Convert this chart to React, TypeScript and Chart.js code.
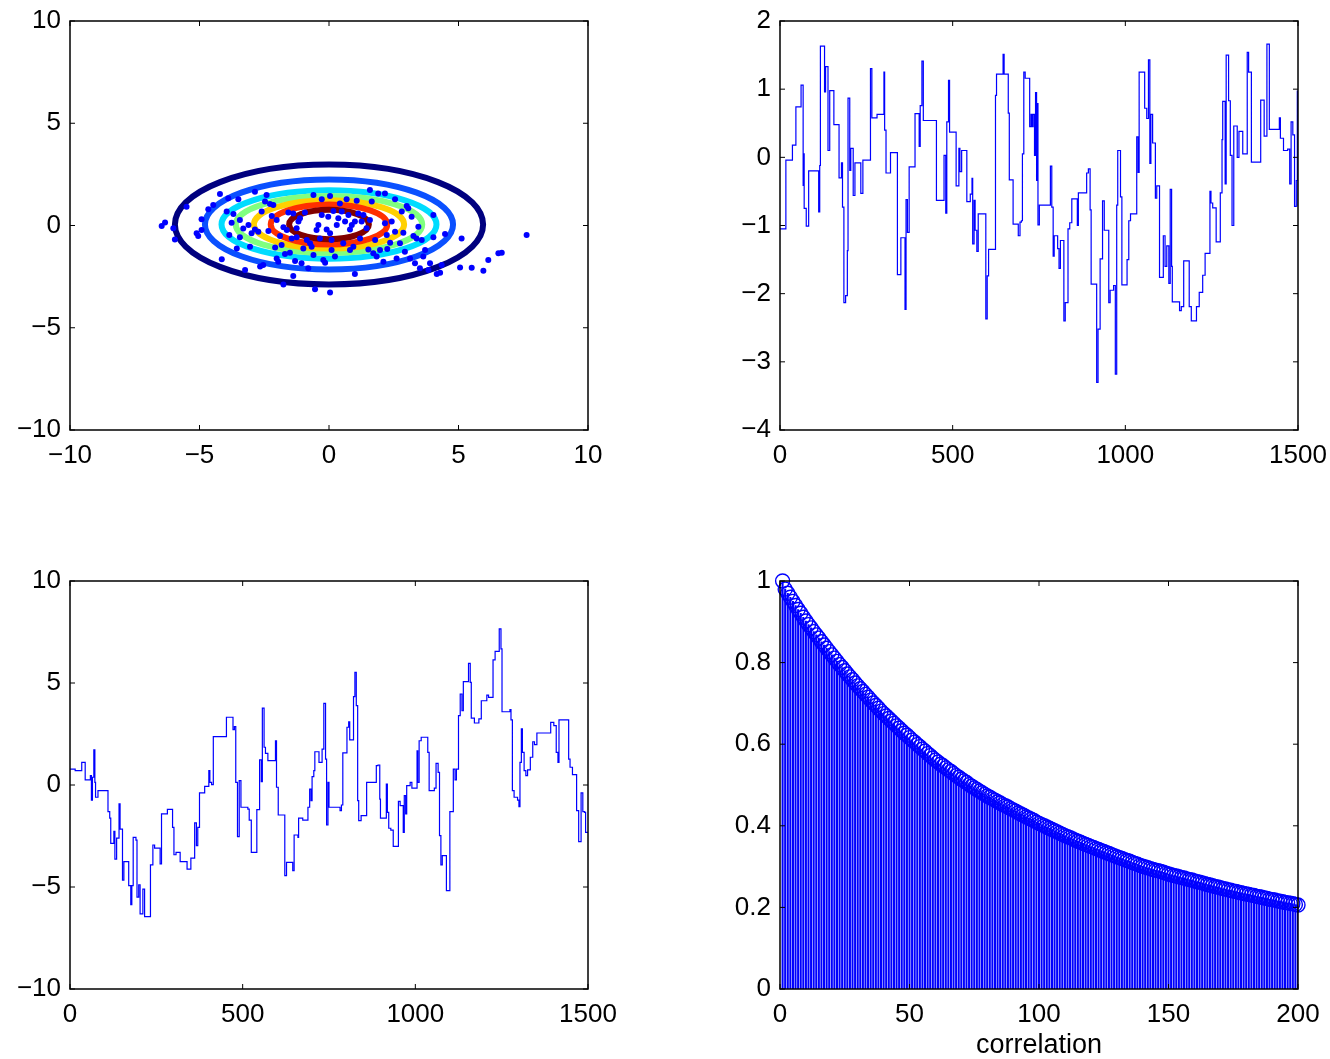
import React, { useEffect, useRef } from 'react';
import { Chart, registerables } from 'chart.js';

Chart.register(...registerables);

const FONT = '"Liberation Sans", Arial, Helvetica, sans-serif';
const TICK_FONT_SIZE = 26;
const TITLE_FONT_SIZE = 27;
const Y_AXIS_W = 70;
const PAD_TOP = 32;
const PAD_RIGHT = 50;
const TICK_LEN = 5;

// ---------- Panel 1 (top-left): contour levels + samples ----------
const contourColors = ['#00007f', '#0a50ff', '#00dcff', '#80ff80', '#ffd000', '#ff3000', '#800000'];
const contourSemiX = [5.95, 4.79, 4.15, 3.6, 2.9, 2.25, 1.54];
const contourSemiY = [2.93, 2.2, 1.67, 1.39, 1.18, 0.98, 0.72];
const contourCenterX = 0;
const contourCenterY = 0.05;

const sampleX = [
  -6.46, -6.33, -6.01, -5.95, -5.5, -5.11, -5.05, -4.92, -4.92, -4.66,
  -4.47, -4.21, -4.14, -3.95, -3.89, -3.85, -3.76, -3.69, -3.56, -3.5,
  -3.44, -3.44, -3.31, -3.24, -3.11, -3.05, -2.99, -2.86, -2.86, -2.73,
  -2.66, -2.6, -2.54, -2.47, -2.41, -2.34, -2.28, -2.21, -2.15, -2.08,
  -2.02, -2.02, -1.96, -1.89, -1.83, -1.76, -1.76, -1.7, -1.63, -1.57,
  -1.51, -1.44, -1.38, -1.38, -1.31, -1.25, -1.25, -1.18, -1.12, -1.06,
  -0.99, -0.93, -0.86, -0.8, -0.73, -0.67, -0.6, -0.6, -0.54, -0.48,
  -0.41, -0.35, -0.28, -0.28, -0.22, -0.15, -0.09, -0.03, 0.04, 0.04,
  0.04, 0.1, 0.17, 0.1, 0.23, 0.3, 0.36, 0.42, 0.49, 0.55,
  0.62, 0.68, 0.75, 0.81, 0.81, 0.88, 0.94, 1.0, 1.0, 1.07,
  1.13, 1.2, 1.26, 1.33, 1.45, 1.52, 1.58, 1.58, 1.65, 1.71,
  1.78, 1.84, 1.9, 1.97, 2.1, 2.16, 2.16, 2.23, 2.25, 2.36,
  2.42, 2.55, 2.55, 2.61, 2.74, 2.81, 2.87, 2.93, 3.0, 3.06,
  3.13, 3.19, 3.26, 3.32, 3.38, 3.45, 3.51, 3.58, 3.64, 3.71,
  3.84, 3.9, 4.03, 4.03, 4.16, 4.29, 4.35, 4.48, 5.06, 5.12,
  5.51, 5.96, 6.15, 6.54, 6.67, 7.63,
];
const sampleY = [
  -0.02, 0.15, -0.14, -0.68, 0.92, -0.38, -0.51, 0.3, -0.22, 0.79,
  1.0, 1.54, -1.65, 0.68, 1.33, -0.46, 0.14, 0.56, -1.12, 1.28,
  0.27, -0.58, -0.15, -2.18, 0.02, -1.04, -0.38, 1.65, -0.19, -0.3,
  -2.01, 0.68, -1.93, 1.17, 1.49, -0.27, 1.05, 0.46, 1.0, -1.07,
  0.27, -1.61, -1.77, -0.51, -0.95, -2.88, -0.09, -1.39, -0.22, 0.63,
  -1.33, -0.63, -2.47, 0.59, -1.74, -0.14, -0.58, 0.19, 0.35, -1.85,
  -1.12, 0.64, -0.71, -2.09, -0.87, -1.04, 1.49, -1.44, -3.12, -0.22,
  0.02, -0.63, 1.28, 0.51, -1.69, -1.82, -0.19, 0.43, 1.44, -0.38,
  -3.28, -0.71, 0.71, -1.2, -1.52, 0.02, 0.35, 1.08, 0.68, -0.87,
  0.19, 1.28, 0.51, -0.19, -1.2, 0.02, -1.04, -2.37, 0.19, 1.21,
  0.59, -0.63, 0.19, 0.51, -0.14, -1.17, 1.74, 0.27, 1.17, -1.36,
  -0.71, -1.52, 1.57, -1.2, -1.77, 1.57, 0.11, -0.46, -1.15, -0.84,
  0.19, 1.28, -0.3, -1.61, -0.87, 0.68, -0.35, -1.28, 0.95, 0.84,
  -1.61, 0.43, -0.51, -1.85, -0.63, -0.06, -2.09, -0.71, -1.52, -1.2,
  -2.18, -1.85, -0.58, 0.51, -2.37, -2.31, -1.93, -0.42, -2.05, -0.63,
  -2.06, -2.21, -1.69, -1.36, -1.33, -0.46,
];

// ---------- Panel 2 (top-right): chain trace, breakpoints ----------
const traceAX = [
  0, 17, 36, 46, 61, 67, 69, 70, 76, 83,
  112, 115, 117, 129, 132, 139, 144, 156, 171, 178,
  181, 185, 190, 195, 197, 202, 205, 212, 217, 234,
  240, 262, 266, 281, 301, 303, 307, 320, 340, 350,
  362, 365, 369, 374, 391, 403, 406, 411, 415, 453,
  475, 480, 483, 488, 491, 510, 518, 521, 526, 541,
  551, 556, 558, 562, 565, 570, 574, 596, 600, 604,
  624, 627, 646, 649, 661, 664, 675, 690, 695, 699,
  702, 706, 710, 723, 727, 730, 733, 737, 740, 743,
  745, 747, 751, 783, 787, 791, 794, 804, 808, 812,
  822, 826, 834, 839, 845, 861, 864, 888, 893, 898,
  901, 917, 921, 927, 934, 939, 952, 956, 966, 971,
  975, 978, 986, 990, 1005, 1010, 1015, 1033, 1037, 1040,
  1056, 1062, 1067, 1071, 1074, 1079, 1087, 1091, 1099, 1110,
  1115, 1120, 1126, 1130, 1134, 1136, 1157, 1162, 1169, 1185,
  1191, 1206, 1214, 1224, 1231, 1245, 1248, 1253, 1263, 1275,
  1280, 1282, 1289, 1292, 1299, 1304, 1309, 1314, 1324, 1329,
  1340, 1353, 1357, 1365, 1392, 1402, 1410, 1417, 1446, 1449,
  1458, 1470, 1476, 1480, 1485, 1490, 1495, 1498, 1500,
];
const traceAY = [
  -1.05, -0.04, 0.18, 0.74, 1.06, -0.41, 0.05, -0.75, -1.01, -0.2,
  -0.8, -0.12, 1.63, 0.96, 1.33, 0.1, 0.98, 0.48, -0.3, -0.08,
  -0.73, -2.13, -2.03, -1.37, 0.87, -0.19, 0.13, -0.56, -0.08, -0.53,
  -0.04, 1.3, 0.58, 0.63, 1.25, 0.4, -0.23, 0.07, -1.72, -1.18,
  -2.23, -0.62, -1.1, -0.14, 0.64, 0.16, 0.76, 1.41, 0.54, -0.63,
  0.03, -0.82, 0.52, 1.13, 0.37, -0.42, 0.13, -0.21, 0.1, -0.65,
  -0.54, -0.31, -1.27, -0.63, -1.07, -1.38, -0.83, -2.37, -1.74, -1.35,
  0.91, 1.22, 1.51, 1.22, 0.65, -0.33, -0.98, -1.15, -0.95, -0.93,
  0.05, 1.25, 1.16, 0.45, 0.63, 0.45, 0.63, 0.03, 0.95, -0.34,
  0.79, -0.99, -0.7, -0.13, -0.73, -1.45, -1.15, -1.34, -1.63, -1.22,
  -2.4, -2.13, -1.05, -0.96, -0.61, -1.0, -0.52, -0.23, -0.17, -0.77,
  -1.86, -3.3, -2.52, -1.49, -0.64, -1.07, -2.13, -1.95, -1.88, -3.18,
  -0.7, 0.1, -0.58, -1.87, -1.5, -0.93, -0.83, 0.3, -0.22, 1.25,
  0.72, 0.57, 1.43, -0.09, 0.63, 0.21, -0.6, -0.42, -1.76, -1.15,
  -1.6, -1.3, -1.85, -0.47, -1.6, -2.12, -2.25, -2.19, -1.52, -2.19,
  -2.4, -2.19, -1.98, -1.73, -1.41, -0.5, -0.67, -0.74, -1.24, -0.52,
  0.26, 0.82, -0.39, 1.5, 0.83, 0.03, -1.0, 0.46, 0.0, 0.38,
  0.05, 1.54, 1.25, -0.07, 0.84, 0.31, 1.66, 0.41, 0.58, 0.28,
  0.1, 0.12, -0.39, 0.52, 0.33, -0.72, -0.34, 0.97, -0.72,
];

// ---------- Panel 3 (bottom-left): chain trace, breakpoints ----------
const traceBX = [
  0, 15, 34, 44, 59, 62, 65, 69, 72, 74,
  81, 110, 115, 118, 127, 130, 135, 142, 145, 152,
  156, 170, 176, 179, 183, 191, 194, 199, 203, 211,
  216, 233, 240, 245, 261, 265, 282, 297, 301, 307,
  319, 339, 350, 361, 366, 370, 375, 390, 402, 405,
  410, 415, 453, 472, 476, 480, 485, 490, 495, 515,
  519, 525, 541, 549, 554, 557, 562, 566, 573, 595,
  598, 603, 622, 627, 645, 649, 660, 662, 674, 689,
  694, 698, 701, 706, 709, 721, 730, 735, 740, 743,
  747, 750, 782, 786, 790, 802, 807, 810, 821, 825,
  829, 833, 836, 843, 859, 887, 892, 897, 899, 916,
  919, 923, 929, 936, 951, 956, 965, 968, 972, 975,
  985, 990, 1005, 1007, 1011, 1017, 1036, 1040, 1055, 1060,
  1066, 1070, 1074, 1078, 1090, 1100, 1110, 1115, 1119, 1125,
  1130, 1135, 1139, 1154, 1159, 1162, 1171, 1184, 1191, 1207,
  1212, 1225, 1231, 1243, 1248, 1251, 1274, 1277, 1281, 1286,
  1296, 1300, 1303, 1307, 1310, 1315, 1320, 1325, 1333, 1340,
  1345, 1352, 1392, 1401, 1408, 1413, 1416, 1444, 1448, 1455,
  1467, 1473, 1480, 1485, 1490, 1493, 1500,
];
const traceBY = [
  0.78, 0.7, 1.11, 0.25, 0.46, -0.74, 0.38, 1.72, 0.13, -0.6,
  -0.28, -1.31, -1.62, -2.86, -2.27, -3.63, -2.6, -0.93, -2.16, -4.66,
  -3.76, -4.93, -5.87, -4.93, -2.57, -2.7, -5.5, -4.89, -6.32, -5.1,
  -6.45, -3.92, -2.94, -3.09, -3.87, -1.42, -1.19, -2.08, -3.42, -3.3,
  -3.76, -4.12, -3.58, -1.86, -2.97, -2.08, -0.39, -0.07, 0.7, 0.13,
  0.02, 2.37, 3.32, 2.71, 2.86, 0.13, -2.53, 0.21, -1.09, -1.18,
  -1.72, -3.3, -1.21, 1.23, 0.16, 3.77, 1.85, 1.55, 1.19, 2.17,
  -0.11, -1.47, -4.44, -3.79, -4.2, -2.45, -2.57, -1.62, -1.72, -1.09,
  -0.2, -0.77, 0.41, 0.7, 1.63, 1.11, 1.76, 4.0, 1.27, -1.96,
  0.13, -1.09, -1.26, -0.98, 1.57, 2.83, 3.1, 2.21, 4.33, 5.52,
  3.89, -0.77, -1.75, -1.5, 0.13, 0.95, 0.98, -0.69, -1.62, 0.05,
  -1.34, -2.12, -2.21, -3.01, -0.8, -1.01, -2.32, -0.52, -1.42, -0.03,
  0.13, -0.15, 1.68, 0.13, 2.17, 2.34, 1.6, -0.28, -0.15, 1.06,
  0.62, -2.48, -3.92, -3.46, -5.18, -1.31, 0.78, 0.25, 0.78, 3.4,
  4.46, 3.64, 5.07, 5.96, 5.03, 3.28, 3.04, 3.24, 4.13, 4.41,
  4.3, 6.13, 6.55, 7.65, 6.67, 3.59, 3.69, 3.19, -0.28, -0.6,
  -0.74, -1.06, 1.11, 2.75, 1.6, 0.7, 0.46, 0.74, 1.36, 2.12,
  1.98, 2.55, 3.07, 2.91, 1.6, 1.11, 3.19, 1.27, 0.87, 0.51,
  -1.26, -2.78, -0.39, -1.31, -1.34, -2.32, -2.32,
];

// ---------- Panel 4 (bottom-right): autocorrelation, lags 1..201 ----------
const acfValues = [
  1.0, 0.98, 0.97, 0.96, 0.95, 0.94, 0.93, 0.921, 0.911, 0.902,
  0.893, 0.885, 0.876, 0.868, 0.86, 0.851, 0.843, 0.835, 0.827, 0.819,
  0.811, 0.803, 0.795, 0.788, 0.78, 0.772, 0.765, 0.758, 0.75, 0.743,
  0.736, 0.729, 0.722, 0.715, 0.708, 0.701, 0.695, 0.688, 0.681, 0.675,
  0.669, 0.663, 0.657, 0.651, 0.645, 0.639, 0.633, 0.627, 0.622, 0.616,
  0.61, 0.605, 0.599, 0.594, 0.588, 0.583, 0.577, 0.572, 0.566, 0.561,
  0.556, 0.551, 0.547, 0.542, 0.537, 0.533, 0.528, 0.523, 0.519, 0.514,
  0.51, 0.506, 0.501, 0.497, 0.493, 0.489, 0.485, 0.481, 0.477, 0.473,
  0.47, 0.466, 0.463, 0.459, 0.456, 0.452, 0.449, 0.446, 0.442, 0.439,
  0.436, 0.432, 0.429, 0.426, 0.422, 0.419, 0.416, 0.413, 0.409, 0.406,
  0.403, 0.4, 0.397, 0.394, 0.391, 0.388, 0.385, 0.382, 0.379, 0.376,
  0.373, 0.371, 0.368, 0.365, 0.362, 0.36, 0.357, 0.354, 0.352, 0.349,
  0.347, 0.344, 0.342, 0.339, 0.337, 0.334, 0.332, 0.329, 0.327, 0.324,
  0.322, 0.32, 0.317, 0.315, 0.313, 0.31, 0.308, 0.306, 0.303, 0.301,
  0.299, 0.297, 0.295, 0.293, 0.291, 0.29, 0.288, 0.286, 0.284, 0.282,
  0.28, 0.278, 0.277, 0.275, 0.273, 0.272, 0.27, 0.268, 0.267, 0.265,
  0.263, 0.262, 0.26, 0.258, 0.256, 0.255, 0.253, 0.251, 0.25, 0.248,
  0.246, 0.245, 0.243, 0.242, 0.24, 0.239, 0.237, 0.236, 0.234, 0.233,
  0.232, 0.23, 0.229, 0.227, 0.226, 0.225, 0.223, 0.222, 0.22, 0.219,
  0.218, 0.216, 0.215, 0.214, 0.212, 0.211, 0.21, 0.209, 0.207, 0.206,
  0.205,
];

const BLUE = '#0000ff';

const fmt = (v: number) => {
  const n = Math.round(v * 1000) / 1000;
  return (n < 0 ? '\u2212' : '') + String(Math.abs(n));
};

// Plugins
const boxPlugin = {
  id: 'matlabBox',
  afterDraw(chart: any) {
    const { ctx, chartArea: a, scales } = chart;
    const x = scales.x;
    const y = scales.y;
    ctx.save();
    ctx.strokeStyle = '#000';
    ctx.lineWidth = 1;
    ctx.beginPath();
    x.ticks.forEach((t: any) => {
      const px = x.getPixelForValue(t.value);
      ctx.moveTo(px, a.bottom);
      ctx.lineTo(px, a.bottom - TICK_LEN);
      ctx.moveTo(px, a.top);
      ctx.lineTo(px, a.top + TICK_LEN);
    });
    y.ticks.forEach((t: any) => {
      const py = y.getPixelForValue(t.value);
      ctx.moveTo(a.left, py);
      ctx.lineTo(a.left + TICK_LEN, py);
      ctx.moveTo(a.right, py);
      ctx.lineTo(a.right - TICK_LEN, py);
    });
    ctx.stroke();
    ctx.lineWidth = 1.5;
    ctx.strokeRect(a.left, a.top, a.right - a.left, a.bottom - a.top);
    ctx.restore();
  },
};

const contourPlugin = {
  id: 'contours',
  beforeDatasetsDraw(chart: any) {
    const { ctx, chartArea: a, scales } = chart;
    const x = scales.x;
    const y = scales.y;
    ctx.save();
    ctx.beginPath();
    ctx.rect(a.left, a.top, a.right - a.left, a.bottom - a.top);
    ctx.clip();
    const cx = x.getPixelForValue(contourCenterX);
    const cy = y.getPixelForValue(contourCenterY);
    contourSemiX.forEach((sx, i) => {
      const rx = Math.abs(x.getPixelForValue(contourCenterX + sx) - cx);
      const ry = Math.abs(y.getPixelForValue(contourCenterY + contourSemiY[i]) - cy);
      ctx.beginPath();
      ctx.ellipse(cx, cy, rx, ry, 0, 0, Math.PI * 2);
      ctx.strokeStyle = contourColors[i];
      ctx.lineWidth = 6;
      ctx.stroke();
    });
    ctx.restore();
  },
};

function axis(min: number, max: number, step: number, pad: number, extra: any = {}) {
  return {
    type: 'linear',
    min,
    max,
    offset: false,
    ticks: {
      stepSize: step,
      autoSkip: false,
      maxRotation: 0,
      minRotation: 0,
      color: '#000',
      font: { family: FONT, size: TICK_FONT_SIZE },
      padding: pad,
      callback: (v: any) => fmt(Number(v)),
    },
    grid: { display: false, drawTicks: false },
    border: { display: false },
    ...extra,
  };
}

function baseOptions(
  xr: [number, number, number],
  yr: [number, number, number],
  xAxisH: number,
  xTitle?: string,
) {
  return {
    responsive: false,
    maintainAspectRatio: false,
    animation: false,
    devicePixelRatio: 1,
    events: [],
    layout: { padding: { left: 0, top: PAD_TOP, right: PAD_RIGHT, bottom: 0 } },
    plugins: { legend: { display: false }, tooltip: { enabled: false }, title: { display: false } },
    scales: {
      x: axis(xr[0], xr[1], xr[2], 10, {
        afterFit: (s: any) => {
          s.height = xAxisH;
        },
        title: xTitle
          ? {
              display: true,
              text: xTitle,
              color: '#000',
              font: { family: FONT, size: TITLE_FONT_SIZE, lineHeight: 1 },
              padding: 0,
            }
          : { display: false },
      }),
      y: axis(yr[0], yr[1], yr[2], 9, {
        afterFit: (s: any) => {
          s.width = Y_AXIS_W;
        },
      }),
    },
  };
}

function buildScatterContour() {
  return {
    type: 'scatter',
    data: {
      datasets: [
        {
          data: sampleX.map((x, i) => ({ x, y: sampleY[i] })),
          pointRadius: 3,
          pointBackgroundColor: BLUE,
          pointBorderWidth: 0,
          showLine: false,
        },
      ],
    },
    options: baseOptions([-10, 10, 5], [-10, 10, 5], 50),
    plugins: [contourPlugin, boxPlugin],
  };
}

function buildTrace(xs: number[], ys: number[], yr: [number, number, number]) {
  return {
    type: 'line',
    data: {
      datasets: [
        {
          data: xs.map((x, i) => ({ x, y: ys[i] })),
          borderColor: BLUE,
          borderWidth: 1.2,
          pointRadius: 0,
          stepped: 'before',
          fill: false,
          tension: 0,
        },
      ],
    },
    options: baseOptions([0, 1500, 500], yr, 50),
    plugins: [boxPlugin],
  };
}

function buildAcf() {
  const pts = acfValues.map((v, i) => ({ x: i + 1, y: v }));
  return {
    type: 'bar',
    data: {
      datasets: [
        {
          type: 'line',
          data: pts,
          showLine: false,
          pointStyle: 'circle',
          pointRadius: 7,
          pointBorderColor: BLUE,
          pointBackgroundColor: 'rgba(0,0,0,0)',
          pointBorderWidth: 1.4,
          clip: false,
          order: 0,
        },
        {
          type: 'bar',
          data: pts,
          backgroundColor: BLUE,
          barThickness: 1.4,
          borderWidth: 0,
          order: 1,
        },
      ],
    },
    options: baseOptions([0, 200, 50], [0, 1, 0.2], 70, 'correlation'),
    plugins: [boxPlugin],
  };
}

function Panel(props: { left: number; top: number; plotW: number; plotH: number; xAxisH: number; build: () => any }) {
  const { left, top, plotW, plotH, xAxisH, build } = props;
  const ref = useRef<HTMLCanvasElement>(null);
  const w = Y_AXIS_W + plotW + PAD_RIGHT;
  const h = PAD_TOP + plotH + xAxisH;
  useEffect(() => {
    const chart = new Chart(ref.current as HTMLCanvasElement, build());
    return () => chart.destroy();
  }, []);
  return (
    <canvas
      ref={ref}
      width={w}
      height={h}
      style={{ position: 'absolute', left: left - Y_AXIS_W, top: top - PAD_TOP, width: w, height: h }}
    />
  );
}

export default function App() {
  return (
    <div
      style={{
        position: 'absolute',
        left: 0,
        top: 0,
        width: 1330,
        height: 1059,
        overflow: 'hidden',
        background: '#fff',
      }}
    >
      <Panel left={70} top={21} plotW={518} plotH={409} xAxisH={50} build={buildScatterContour} />
      <Panel left={780} top={21} plotW={518} plotH={409} xAxisH={50} build={() => buildTrace(traceAX, traceAY, [-4, 2, 1])} />
      <Panel left={70} top={581} plotW={518} plotH={408} xAxisH={50} build={() => buildTrace(traceBX, traceBY, [-10, 10, 5])} />
      <Panel left={780} top={581} plotW={518} plotH={408} xAxisH={70} build={buildAcf} />
    </div>
  );
}
